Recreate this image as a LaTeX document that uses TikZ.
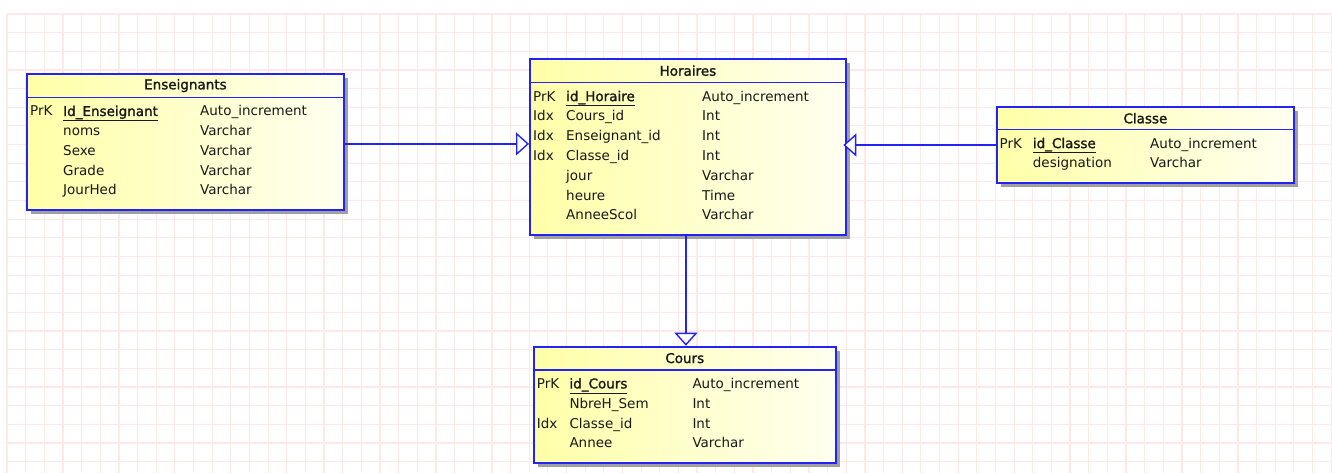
\documentclass[tikz,border=0pt]{standalone}
\usepackage{fontspec}
\setmainfont{DejaVu Sans}[BoldFont=DejaVu Sans,BoldFeatures={FakeBold=1.6}]
\usetikzlibrary{arrows.meta,shadows}

\definecolor{erblue}{RGB}{35,35,245}
\definecolor{tabyellow}{RGB}{255,255,168}
\definecolor{tabpale}{RGB}{255,255,240}
\definecolor{gridpink}{RGB}{255,232,232}
\definecolor{shadowgray}{RGB}{160,160,160}
\definecolor{inkgray}{RGB}{25,25,25}

\begin{document}
\begin{tikzpicture}[x=1pt,y=-1pt,font=\fontsize{13.5}{16}\selectfont,text=inkgray,
  tablebox/.style={draw=erblue,line width=1.8pt,left color=tabyellow,right color=tabpale,
    general shadow={fill=shadowgray,shadow xshift=4pt,shadow yshift=-4pt},
    anchor=north west,inner sep=0pt},
  tabtitle/.style={font=\fontsize{13.5}{16}\selectfont\bfseries,inner sep=0pt},
  headline/.style={draw=erblue,line width=1.6pt},
  fld/.style={anchor=base west,inner sep=0pt},
  link/.style={draw=erblue,line width=1.5pt,-{Triangle[fill=white,length=13pt,width=23pt,line width=1.4pt]}}]
  \fill[white] (0,0) rectangle (1332,473);
  \useasboundingbox (0,0) rectangle (1332,473);

  % background grid
  \foreach \gx in {0,...,71}
    \draw[gridpink,line width=1.2pt] (7+18.65*\gx,14) -- (7+18.65*\gx,473);
  \foreach \gy in {0,...,24}
    \draw[gridpink,line width=1.2pt] (7,14+18.65*\gy) -- (1332,14+18.65*\gy);

  % Enseignants
  \node[tablebox,minimum width=317pt,minimum height=136pt] (ens) at (26,73) {};
  \node[tabtitle] (ens-title) at ([yshift=-12.6pt]ens.north) {Enseignants};
  \draw[headline] ([yshift=-24.7pt]ens.north west) -- ([yshift=-24.7pt]ens.north east);
  \foreach \k/\f/\t [count=\i] in {PrK/\underline{\textbf{Id\_Enseignant}}/Auto\_increment,
      /noms/Varchar,/Sexe/Varchar,/Grade/Varchar,/JourHed/Varchar}{
    \node[fld] (ens-k\i) at (30,96.3+19.7*\i) {\k};
    \node[fld] (ens-f\i) at (63,96.3+19.7*\i) {\f};
    \node[fld] (ens-t\i) at (200,96.3+19.7*\i) {\t};
  }

  % Horaires
  \node[tablebox,minimum width=316pt,minimum height=176pt] (hor) at (529,58.3) {};
  \node[tabtitle] (hor-title) at ([yshift=-12.4pt]hor.north) {Horaires};
  \draw[headline] ([yshift=-24.4pt]hor.north west) -- ([yshift=-24.4pt]hor.north east);
  \foreach \k/\f/\t [count=\i] in {PrK/\underline{\textbf{id\_Horaire}}/Auto\_increment,
      Idx/Cours\_id/Int,Idx/Enseignant\_id/Int,Idx/Classe\_id/Int,
      /jour/Varchar,/heure/Time,/AnneeScol/Varchar}{
    \node[fld] (hor-k\i) at (533,81.3+19.8*\i) {\k};
    \node[fld] (hor-f\i) at (566,81.3+19.8*\i) {\f};
    \node[fld] (hor-t\i) at (702,81.3+19.8*\i) {\t};
  }

  % Classe
  \node[tablebox,minimum width=297.6pt,minimum height=76.3pt] (cla) at (995.7,106) {};
  \node[tabtitle] (cla-title) at ([yshift=-12.3pt]cla.north) {Classe};
  \draw[headline] ([yshift=-23.7pt]cla.north west) -- ([yshift=-23.7pt]cla.north east);
  \foreach \k/\f/\t [count=\i] in {PrK/\underline{\textbf{id\_Classe}}/Auto\_increment,
      /designation/Varchar}{
    \node[fld] (cla-k\i) at (999.5,128.3+19.8*\i) {\k};
    \node[fld] (cla-f\i) at (1032.7,128.3+19.8*\i) {\f};
    \node[fld] (cla-t\i) at (1150,128.3+19.8*\i) {\t};
  }

  % Cours
  \node[tablebox,minimum width=302.3pt,minimum height=116.6pt] (cou) at (532.7,345.7) {};
  \node[tabtitle] (cou-title) at ([yshift=-12.4pt]cou.north) {Cours};
  \draw[headline] ([yshift=-24.3pt]cou.north west) -- ([yshift=-24.3pt]cou.north east);
  \foreach \k/\f/\t [count=\i] in {PrK/\underline{\textbf{id\_Cours}}/Auto\_increment,
      /NbreH\_Sem/Int,Idx/Classe\_id/Int,/Annee/Varchar}{
    \node[fld] (cou-k\i) at (536.7,368.6+19.8*\i) {\k};
    \node[fld] (cou-f\i) at (569.3,368.6+19.8*\i) {\f};
    \node[fld] (cou-t\i) at (692.3,368.6+19.8*\i) {\t};
  }

  % relations
  \draw[link] ([yshift=-2pt]ens.east) -- ([yshift=-2pt]ens.east -| hor.west);
  \draw[link,shorten >=-3.5pt] (cla.west) -- (cla.west -| hor.east);
  \draw[link] ([xshift=-2pt]hor.south) -- ([xshift=-2pt]hor.south |- cou.north);
\end{tikzpicture}
\end{document}
